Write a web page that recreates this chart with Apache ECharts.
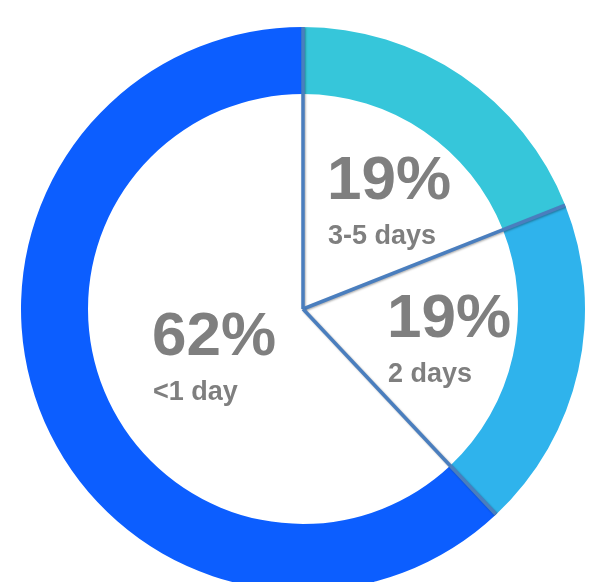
<!DOCTYPE html>
<html>
<head>
<meta charset="utf-8">
<script src="https://cdn.jsdelivr.net/npm/echarts@6/dist/echarts.min.js"></script>
<style>
html,body{margin:0;padding:0;background:#fff;}
#c{width:589px;height:582px;}
</style>
</head>
<body>
<div id="c"></div>
<script>
const categories = ['3-5 days', '2 days', '<1 day'];
const values = [19, 19, 62];
const percentLabels = ['19%', '19%', '62%'];
const colors = ['#36c6da', '#2fb3ec', '#0c5eff'];

const CX = 303, CY = 309, R_OUT = 282, R_IN = 215;

// boundaries between slices (cumulative percentages), starting at 0
const boundaries = [0];
let acc = 0;
for (let i = 0; i < values.length - 1; i++) { acc += values[i]; boundaries.push(acc); }
const total = values.reduce((a, b) => a + b, 0);

const lineSeries = boundaries.map(b => ({
  type: 'line',
  coordinateSystem: 'polar',
  data: [[0, b], [1, b]],
  symbol: 'none',
  silent: true,
  lineStyle: {
    color: '#4a7ebe', width: 3.5,
    shadowColor: 'rgba(0,0,0,0.3)', shadowBlur: 2, shadowOffsetX: 1, shadowOffsetY: 1
  },
  z: 5,
  animation: false
}));

// label layout (positions only)
const labelPos = [
  { x: 327, y: 151 },
  { x: 387, y: 289 },
  { x: 152, y: 307 }
];

const chart = echarts.init(document.getElementById('c'));
chart.setOption({
  animation: false,
  polar: { center: [CX, CY], radius: [0, R_OUT] },
  radiusAxis: { min: 0, max: 1, show: false },
  angleAxis: { min: 0, max: total, startAngle: 90, clockwise: true, show: false },
  series: [
    {
      type: 'pie',
      center: [CX, CY],
      radius: [R_IN, R_OUT],
      startAngle: 90,
      clockwise: true,
      silent: true,
      label: { show: false },
      labelLine: { show: false },
      itemStyle: { borderWidth: 0 },
      data: categories.map((c, i) => ({ name: c, value: values[i], itemStyle: { color: colors[i] } })),
      z: 2
    },
    ...lineSeries
  ],
  graphic: categories.map((c, i) => ({
    type: 'group',
    left: labelPos[i].x,
    top: labelPos[i].y,
    z: 10,
    children: [
      { type: 'text', x: 0, y: 0, style: { text: percentLabels[i], fill: '#7f7f7f', font: 'bold 62px "Liberation Sans", Arial, sans-serif' } },
      { type: 'text', x: 1, y: 72, style: { text: c, fill: '#7f7f7f', font: 'bold 27px "Liberation Sans", Arial, sans-serif' } }
    ]
  }))
});
</script>
</body>
</html>
